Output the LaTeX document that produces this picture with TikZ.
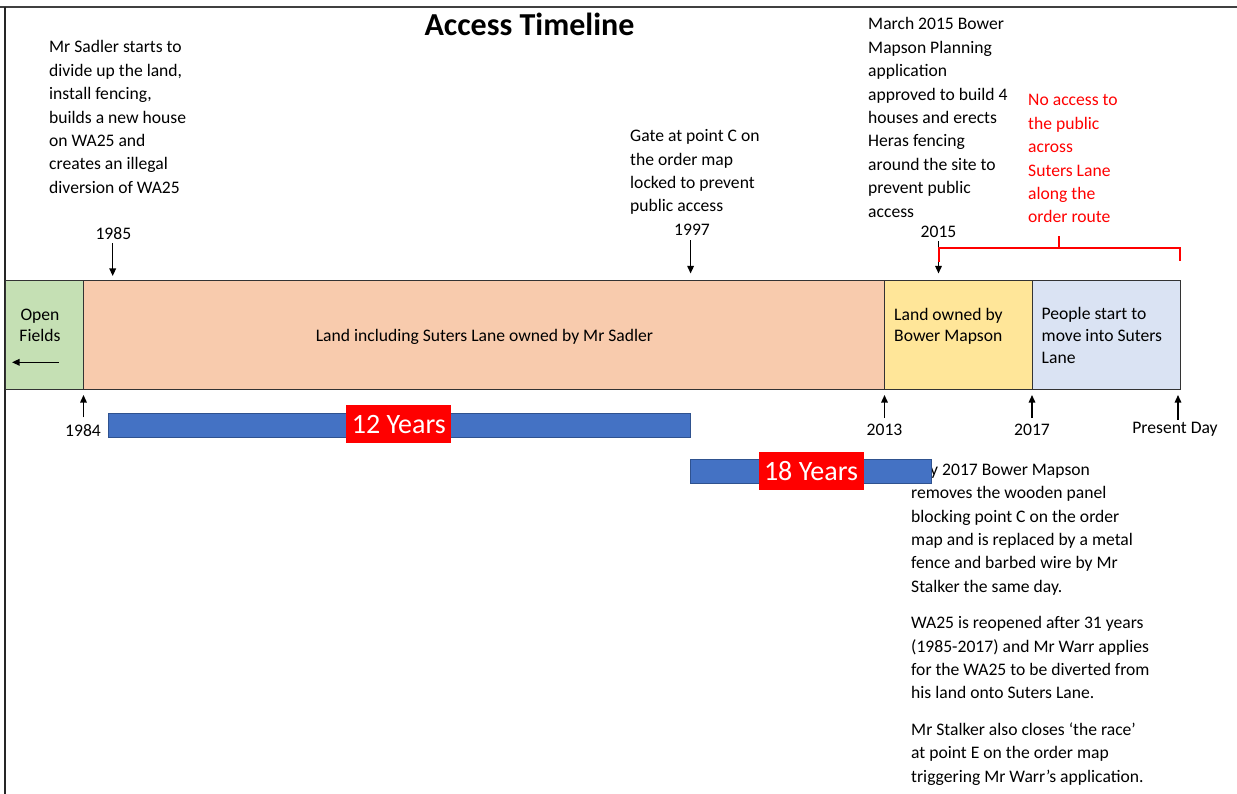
\documentclass[tikz,border=0pt]{standalone}
\usepackage{fontspec}
\setmainfont{Carlito}
\usetikzlibrary{arrows.meta}
\definecolor{cgreen}{HTML}{C5E0B4}
\definecolor{cpeach}{HTML}{F8CBAD}
\definecolor{cyellow}{HTML}{FFE699}
\definecolor{clblue}{HTML}{DAE3F3}
\definecolor{cbar}{HTML}{4472C4}
\definecolor{cbarline}{HTML}{2F528F}
\definecolor{cred}{HTML}{FF0000}
\tikzset{
  body/.style={font=\fontsize{17.6}{23.4}\selectfont},
  bandfont/.style={font=\fontsize{17.6}{21.7}\selectfont},
  txt/.style={body, anchor=base west, inner sep=0pt, align=left},
  yearlbl/.style={body, anchor=base, inner sep=0pt},
  seg/.style={draw=black!80, line width=0.9pt, inner sep=0pt, outer sep=0pt, minimum height=109.5pt, anchor=north west},
  arr/.style={-{Triangle[width=6.5pt,length=7.5pt]}, line width=1.4pt},
  bar/.style={fill=cbar, draw=cbarline, line width=0.6pt, inner sep=0pt, outer sep=0pt, anchor=north west},
  yrs/.style={fill=cred, text=white, inner sep=0pt, minimum width=105pt, minimum height=38pt, font=\fontsize{28}{32}\selectfont},
  redline/.style={draw=cred, line width=2pt}
}
\begin{document}
\begin{tikzpicture}[x=1pt,y=-1pt]
\useasboundingbox (0,0) rectangle (1237,794);
% frame
\draw[line width=2pt, black!75] (0,7) -- (1237,7);
\draw[line width=2pt, black!85] (5,7) -- (5,794);

% title
\node[font=\fontsize{32}{38}\selectfont\bfseries, anchor=base, inner sep=0pt] (title) at (529.5,36) {Access Timeline};

% top texts (anchor = baseline of last line)
\node[txt] (sadlertxt) at (49,193.4) {Mr Sadler starts to\\divide up the land,\\install fencing,\\builds a new house\\on WA25 and\\creates an illegal\\diversion of WA25};
\node[txt] (gatetxt) at (630,211.9) {Gate at point C on\\the order map\\locked to prevent\\public access};
\node[txt] (marchtxt) at (868,217.2) {March 2015 Bower\\Mapson Planning\\application\\approved to build 4\\houses and erects\\Heras fencing\\around the site to\\prevent public\\access};
\node[txt, text=cred] (noaccess) at (1028,223) {No access to\\the public\\across\\Suters Lane\\along the\\order route};

% band
\node[seg, fill=cgreen, minimum width=78.5pt] (open) at (5,280) {};
\node[seg, fill=cpeach, minimum width=801pt] (sadler) at (open.north east) {};
\node[seg, fill=cyellow, minimum width=147.5pt] (bower) at (sadler.north east) {};
\node[seg, fill=clblue, minimum width=148pt] (people) at (bower.north east) {};

\node[bandfont, align=center, anchor=base, inner sep=0pt] (opentxt) at (40,341.7) {Open\\Fields};
\coordinate (openarr) at (12,362.3);
\draw[arr] (58.5,362.3) -- (openarr);
\node[txt, anchor=base] (sadlerlbl) at (484.5,341.7) {Land including Suters Lane owned by Mr Sadler};
\node[txt, bandfont] (bowerlbl) at (894,341.7) {Land owned by\\Bower Mapson};
\node[txt, bandfont] (peoplelbl) at (1041.5,363.3) {People start to\\move into Suters\\Lane};

% top year labels and arrows
\node[yearlbl] (y1985) at (113.4,240) {1985};
\node[yearlbl] (y1997) at (692,235.3) {1997};
\node[yearlbl] (y2015) at (938.5,237.3) {2015};
\draw[arr, shorten <=3pt, shorten >=4pt] (y1985.south -| 112.7,0) -- (112.7,280);
\draw[arr, shorten <=5pt, shorten >=6.5pt] (y1997.south -| 690.6,0) -- (690.6,280);
\draw[arr, shorten <=3.5pt, shorten >=6.5pt] (y2015.south -| 938.5,0) -- (938.5,280);

% red bracket
\draw[redline] (938.5,262) -- (938.5,248) -- (1179.5,248) -- (1179.5,261);
\draw[redline] (1059,248) -- (1059,236);

% bottom year labels and arrows
\node[yearlbl] (y1984) at (83,436.7) {1984};
\node[yearlbl] (y2013) at (884.5,435.7) {2013};
\node[yearlbl] (y2017) at (1032,435.7) {2017};
\node[yearlbl] (ypres) at (1175,433) {Present Day};
\draw[arr, shorten <=7pt, shorten >=5.5pt] (y1984.north -| open.south east) -- (open.south east);
\draw[arr, shorten <=6pt, shorten >=5.5pt] (y2013.north -| sadler.south east) -- (sadler.south east);
\draw[arr, shorten <=6pt, shorten >=5.5pt] (y2017.north -| bower.south east) -- (bower.south east);
\draw[arr, shorten <=2pt, shorten >=5.5pt] (ypres.north -| 1178,0) -- (1178,389.5);

% bottom-right text
\node[txt] (bm2017) at (911,782) {\hspace*{19pt}y 2017 Bower Mapson\\removes the wooden panel\\blocking point C on the order\\map and is replaced by a metal\\fence and barbed wire by Mr\\Stalker the same day.\\[13pt]WA25 is reopened after 31 years\\(1985-2017) and Mr Warr applies\\for the WA25 to be diverted from\\his land onto Suters Lane.\\[13pt]Mr Stalker also closes ‘the race’\\at point E on the order map\\triggering Mr Warr’s application.};

% year bars
\node[bar, minimum width=582pt, minimum height=24pt] (bar12) at (108,413) {};
\node[bar, minimum width=241pt, minimum height=24.5pt] (bar18) at (690,459) {};
\node[yrs] (l12) at (398.8,424.2) {12 Years};
\node[yrs] (l18) at (811,470.8) {18 Years};
\end{tikzpicture}
\end{document}
